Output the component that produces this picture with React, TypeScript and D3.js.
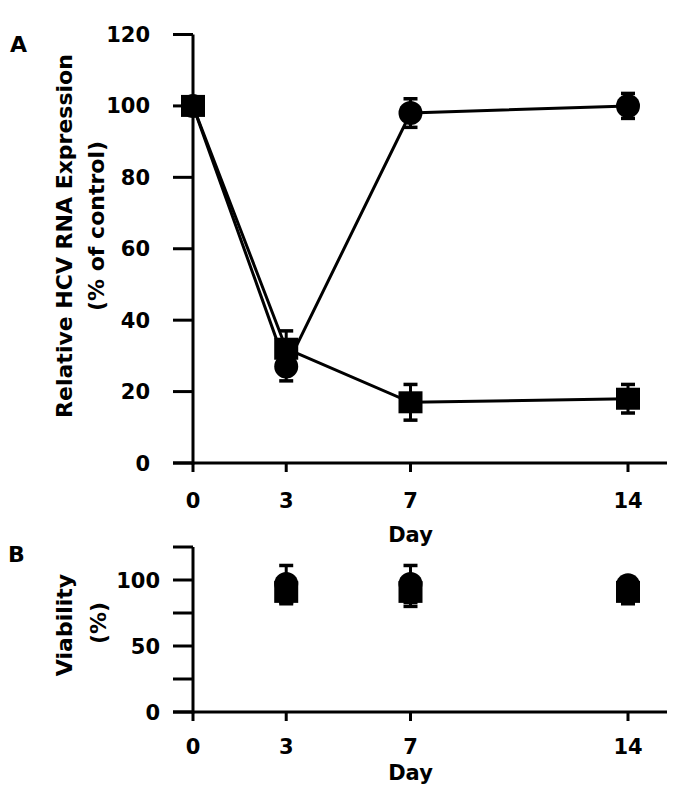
import React from "react";
import * as d3 from "d3";

const days = [0, 3, 7, 14];
const aCircle = [100, 27, 98, 100];
const aCircleErr = [2, 4, 4, 3.5];
const aSquare = [100, 32, 17, 18];
const aSquareErr = [2, 5, 5, 4];

const bDays = [3, 7, 14];
const bCircle = [97, 97, 96];
const bCircleErr = [14, 14, 5];
const bSquare = [91, 91, 91];
const bSquareErr = [9, 11, 9];

const aYTicks = [0, 20, 40, 60, 80, 100, 120];
const bYTicks = [0, 25, 50, 75, 100, 125];
const bYLabels = [0, 50, 100];

const FONT = "'DejaVu Sans', sans-serif";

function ErrBar({ x, y1, y2 }: { x: number; y1: number; y2: number }) {
  return (
    <g stroke="#000" strokeWidth={3}>
      <line x1={x} x2={x} y1={y1} y2={y2} />
      <line x1={x - 7} x2={x + 7} y1={y1} y2={y1} strokeWidth={3.5} />
      <line x1={x - 7} x2={x + 7} y1={y2} y2={y2} strokeWidth={3.5} />
    </g>
  );
}

export default function App() {
  const x = d3.scaleLinear().domain([0, 14]).range([193, 628]);
  const yA = d3.scaleLinear().domain([0, 120]).range([463, 34.5]);
  const yB = d3.scaleLinear().domain([0, 125]).range([712, 547]);
  const line = (ys: number[], xs: number[], y: d3.ScaleLinear<number, number>) =>
    d3.line<number>().x((_, i) => x(xs[i])).y((v) => y(v))(ys) || "";
  const axisEnd = 667;

  return (
    <svg width={685} height={794} style={{ position: "absolute", left: 0, top: 0, background: "#fff" }} fontFamily={FONT} fontWeight="bold">
      {/* Panel A */}
      <text x={10} y={52} fontSize={22}>A</text>
      <line x1={193} x2={193} y1={yA(120)} y2={yA(0) + 1.5} stroke="#000" strokeWidth={3} />
      <line x1={173} x2={axisEnd} y1={yA(0)} y2={yA(0)} stroke="#000" strokeWidth={3} />
      {aYTicks.map((t) => (
        <g key={"ay" + t}>
          <line x1={173} x2={193} y1={yA(t)} y2={yA(t)} stroke="#000" strokeWidth={3} />
          <text x={150} y={yA(t)} dy="0.36em" textAnchor="end" fontSize={21}>{t}</text>
        </g>
      ))}
      {days.map((d) => (
        <g key={"ax" + d}>
          <line x1={x(d)} x2={x(d)} y1={yA(0)} y2={yA(0) + 9} stroke="#000" strokeWidth={3} />
          <text x={x(d)} y={500} dy="0.36em" textAnchor="middle" fontSize={21}>{d}</text>
        </g>
      ))}
      <text x={x(7)} y={534} dy="0.36em" textAnchor="middle" fontSize={21}>Day</text>
      <g transform="translate(64,236) rotate(-90)">
        <text x={0} y={0} dy="0.36em" textAnchor="middle" fontSize={22}>Relative HCV RNA Expression</text>
      </g>
      <g transform="translate(96,226) rotate(-90)">
        <text x={0} y={0} dy="0.36em" textAnchor="middle" fontSize={22}>(% of control)</text>
      </g>
      <path d={line(aCircle, days, yA)} fill="none" stroke="#000" strokeWidth={3} />
      <path d={line(aSquare, days, yA)} fill="none" stroke="#000" strokeWidth={3} />
      {days.map((d, i) => (
        <g key={"ace" + d}>
          <ErrBar x={x(d)} y1={yA(aCircle[i] + aCircleErr[i])} y2={yA(aCircle[i] - aCircleErr[i])} />
          <ErrBar x={x(d)} y1={yA(aSquare[i] + aSquareErr[i])} y2={yA(aSquare[i] - aSquareErr[i])} />
        </g>
      ))}
      {days.map((d, i) => (
        <circle key={"ac" + d} cx={x(d)} cy={yA(aCircle[i])} r={12} fill="#000" />
      ))}
      {days.map((d, i) => (
        <rect key={"as" + d} x={x(d) - 12} y={yA(aSquare[i]) - 11} width={24} height={22} fill="#000" />
      ))}

      {/* Panel B */}
      <text x={8} y={562} fontSize={22}>B</text>
      <line x1={193} x2={193} y1={yB(125)} y2={yB(0) + 1.5} stroke="#000" strokeWidth={3} />
      <line x1={173} x2={axisEnd} y1={yB(0)} y2={yB(0)} stroke="#000" strokeWidth={3} />
      {bYTicks.map((t) => (
        <line key={"byt" + t} x1={173} x2={193} y1={yB(t)} y2={yB(t)} stroke="#000" strokeWidth={3} />
      ))}
      {bYLabels.map((t) => (
        <text key={"byl" + t} x={160} y={yB(t)} dy="0.36em" textAnchor="end" fontSize={21}>{t}</text>
      ))}
      {days.map((d) => (
        <g key={"bx" + d}>
          <line x1={x(d)} x2={x(d)} y1={yB(0)} y2={yB(0) + 9} stroke="#000" strokeWidth={3} />
          <text x={x(d)} y={746} dy="0.36em" textAnchor="middle" fontSize={21}>{d}</text>
        </g>
      ))}
      <text x={x(7)} y={772} dy="0.36em" textAnchor="middle" fontSize={21}>Day</text>
      <g transform="translate(64,625) rotate(-90)">
        <text x={0} y={0} dy="0.36em" textAnchor="middle" fontSize={22}>Viability</text>
      </g>
      <g transform="translate(98,623) rotate(-90)">
        <text x={0} y={0} dy="0.36em" textAnchor="middle" fontSize={22}>(%)</text>
      </g>
      {bDays.map((d, i) => (
        <g key={"bce" + d}>
          <ErrBar x={x(d)} y1={yB(bCircle[i] + bCircleErr[i])} y2={yB(bCircle[i] - bCircleErr[i])} />
          <ErrBar x={x(d)} y1={yB(bSquare[i] + bSquareErr[i])} y2={yB(bSquare[i] - bSquareErr[i])} />
        </g>
      ))}
      {bDays.map((d, i) => (
        <circle key={"bc" + d} cx={x(d)} cy={yB(bCircle[i])} r={12} fill="#000" />
      ))}
      {bDays.map((d, i) => (
        <rect key={"bs" + d} x={x(d) - 12} y={yB(bSquare[i]) - 11} width={24} height={22} fill="#000" />
      ))}
    </svg>
  );
}
